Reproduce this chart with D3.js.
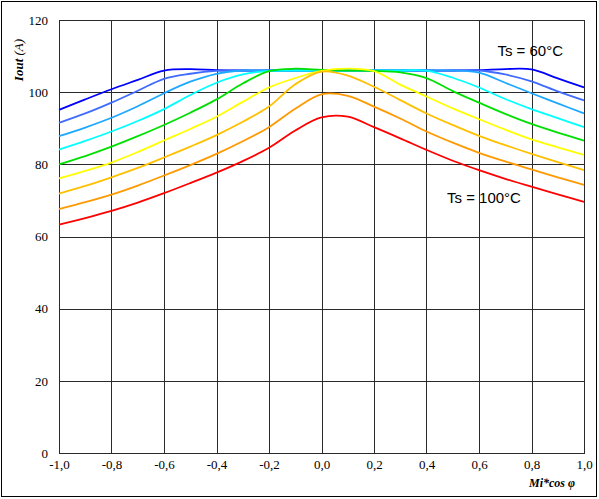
<!DOCTYPE html>
<html>
<head>
<meta charset="utf-8">
<script src="https://cdn.jsdelivr.net/npm/d3@7"></script>
<style>
  html, body { margin: 0; padding: 0; background: #fff; }
  svg { display: block; }
</style>
</head>
<body>
<svg id="chart" width="599" height="499"></svg>
<script>
// Modulation index × cos φ sample points
const xValues = [-1.0, -0.9, -0.8, -0.7, -0.6, -0.5, -0.4, -0.3, -0.2, -0.1, 0.0,
                  0.1, 0.2, 0.3, 0.4, 0.5, 0.6, 0.7, 0.8, 0.9, 1.0];

// Output current (A), one curve per heatsink temperature step (60°C … 100°C)
const iout60 = [95.1, 98.0, 100.8, 103.4, 106.0, 106.4, 106.1, 106.0, 106.0, 106.0, 106.0,
                106.0, 106.0, 106.0, 106.0, 106.0, 106.1, 106.4, 106.3, 103.8, 101.3];
const iout65 = [91.5, 94.1, 97.1, 100.4, 103.7, 105.1, 105.9, 106.0, 106.0, 106.0, 106.0,
                106.0, 106.0, 106.0, 106.0, 106.0, 106.0, 104.9, 103.0, 100.2, 97.7];
const iout70 = [87.8, 90.2, 92.9, 96.1, 99.7, 102.9, 105.1, 106.0, 106.0, 106.0, 106.0,
                106.0, 106.0, 106.0, 106.0, 106.0, 105.4, 102.6, 99.7, 96.9, 94.1];
const iout75 = [84.1, 86.5, 89.1, 92.0, 95.3, 99.2, 102.6, 104.9, 105.9, 106.0, 106.0,
                106.0, 106.0, 106.0, 106.0, 104.0, 101.3, 98.1, 95.3, 92.8, 90.3];
const iout80 = [80.0, 82.3, 84.9, 87.8, 90.9, 94.3, 98.0, 102.4, 105.8, 106.5, 106.2,
                106.0, 105.9, 105.5, 103.9, 100.3, 97.1, 94.0, 91.2, 88.8, 86.6];
const iout85 = [76.1, 78.2, 80.5, 83.4, 86.6, 89.8, 93.2, 97.3, 101.3, 103.9, 105.9,
                106.5, 105.8, 102.1, 98.8, 95.5, 92.5, 89.6, 86.9, 84.7, 82.6];
const iout90 = [71.9, 74.0, 76.4, 79.0, 81.9, 84.9, 88.1, 91.8, 96.0, 102.2, 105.7,
                104.6, 101.5, 97.8, 94.1, 90.9, 87.9, 85.3, 82.9, 80.6, 78.4];
const iout95 = [67.6, 69.5, 71.6, 74.1, 76.9, 79.8, 82.9, 86.4, 90.3, 95.4, 99.4,
                99.0, 96.0, 92.7, 89.1, 86.0, 83.2, 80.8, 78.6, 76.4, 74.3];
const iout100 = [63.3, 65.1, 67.1, 69.4, 72.0, 74.8, 77.7, 80.9, 84.6, 89.4, 93.0,
                 93.2, 90.3, 87.2, 84.0, 81.0, 78.4, 76.0, 73.8, 71.7, 69.6];

const seriesList = [iout60, iout65, iout70, iout75, iout80, iout85, iout90, iout95, iout100];
const seriesColors = ["#0000ff", "#3f6bff", "#1ea8ff", "#00ffff", "#00e000",
                      "#ffff00", "#ffc000", "#ff9900", "#ff0000"];

// Tick values and labels
const xTicks = [-1.0, -0.8, -0.6, -0.4, -0.2, 0.0, 0.2, 0.4, 0.6, 0.8, 1.0];
const yTicks = [0, 20, 40, 60, 80, 100, 120];
const annotations = [
  { text: "Ts = 60°C", x: 0.67, y: 110.1 },
  { text: "Ts = 100°C", x: 0.478, y: 69.4 }
];

const svg = d3.select("#chart");

// Outer frame
svg.append("rect")
  .attr("x", 1.5).attr("y", 1.5)
  .attr("width", 595).attr("height", 495)
  .attr("fill", "none").attr("stroke", "#000").attr("stroke-width", 1);

const plot = { left: 59, right: 584, top: 20, bottom: 453 };

const x = d3.scaleLinear().domain([-1, 1]).range([plot.left, plot.right]);
const y = d3.scaleLinear().domain([0, 120]).range([plot.bottom, plot.top]);

const fmt = v => d3.format(".1f")(v).replace(".", ",").replace("−", "-");

// Vertical grid lines
svg.append("g")
  .selectAll("line")
  .data(xTicks)
  .join("line")
  .attr("x1", d => Math.round(x(d)) + 0.5)
  .attr("x2", d => Math.round(x(d)) + 0.5)
  .attr("y1", plot.top)
  .attr("y2", plot.bottom)
  .attr("stroke", "#2a2a2a")
  .attr("stroke-width", 1);

// Horizontal grid lines
svg.append("g")
  .selectAll("line")
  .data(yTicks)
  .join("line")
  .attr("x1", plot.left)
  .attr("x2", plot.right + 1)
  .attr("y1", d => Math.round(y(d)) + 0.5)
  .attr("y2", d => Math.round(y(d)) + 0.5)
  .attr("stroke", "#2a2a2a")
  .attr("stroke-width", 1);

// Y axis tick labels
const yAxis = d3.axisLeft(y).tickValues(yTicks).tickSize(0).tickPadding(11).tickFormat(d3.format("d"));
svg.append("g")
  .attr("transform", `translate(${plot.left},0)`)
  .call(yAxis)
  .call(g => g.select(".domain").remove())
  .call(g => g.attr("font-family", null))
  .call(g => g.selectAll("text")
    .style("font-family", "'Liberation Serif', 'Times New Roman', serif")
    .attr("font-size", 13)
    .attr("fill", "#000"));

// X axis tick labels
const xAxis = d3.axisBottom(x).tickValues(xTicks).tickSize(0).tickPadding(7).tickFormat(fmt);
svg.append("g")
  .attr("transform", `translate(0,${plot.bottom})`)
  .call(xAxis)
  .call(g => g.select(".domain").remove())
  .call(g => g.attr("font-family", null))
  .call(g => g.selectAll("text")
    .style("font-family", "'Liberation Serif', 'Times New Roman', serif")
    .attr("font-size", 13)
    .attr("fill", "#000"));

// Curves
const line = d3.line()
  .x((d, i) => x(xValues[i]))
  .y(d => y(d))
  .curve(d3.curveCatmullRom.alpha(0.5));

svg.append("g")
  .selectAll("path")
  .data(seriesList)
  .join("path")
  .attr("d", d => line(d))
  .attr("fill", "none")
  .attr("stroke", (d, i) => seriesColors[i])
  .attr("stroke-width", 1.8);

// Temperature annotations
svg.append("g")
  .selectAll("text")
  .data(annotations)
  .join("text")
  .attr("x", d => x(d.x))
  .attr("y", d => y(d.y))
  .style("font-family", "'Liberation Sans', Arial, sans-serif")
  .attr("font-size", 15)
  .attr("fill", "#000")
  .text(d => d.text);

// Axis titles
const yTitle = svg.append("text")
  .attr("transform", "translate(23,60) rotate(-90)")
  .attr("text-anchor", "middle")
  .style("font-family", "'Liberation Serif', 'Times New Roman', serif")
  .attr("font-size", 13)
  .attr("font-style", "italic");
yTitle.append("tspan").attr("font-weight", "bold").text("Iout");
yTitle.append("tspan").text(" (A)");

svg.append("text")
  .attr("x", 575)
  .attr("y", 487)
  .attr("text-anchor", "end")
  .style("font-family", "'Liberation Serif', 'Times New Roman', serif")
  .attr("font-size", 12)
  .attr("font-style", "italic")
  .attr("font-weight", "bold")
  .text("Mi*cos φ");
</script>
</body>
</html>
